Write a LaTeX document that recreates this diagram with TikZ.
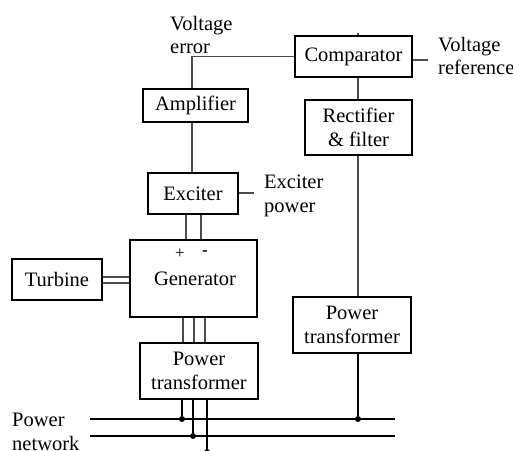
\documentclass[tikz,border=0pt]{standalone}
\usepackage{fontspec}
\setmainfont{Liberation Serif}
\usetikzlibrary{calc}
\begin{document}
\begin{tikzpicture}[x=1pt,y=-1pt,
  blk/.style={draw=black,line width=1.4pt,fill=white,inner sep=0pt,align=center,font=\fontsize{20.5}{23.5}\selectfont},
  lbl/.style={inner sep=0pt,align=left,anchor=north west,font=\fontsize{20.5}{23.5}\selectfont},
  wire/.style={draw=black!70,line width=1.1pt},
  bus/.style={draw=black,line width=1.1pt},
  dotc/.style={fill=black,circle,inner sep=0pt,minimum size=6pt}]
\useasboundingbox (0,0) rectangle (513,450);
% blocks
\node[blk,minimum width=117pt,minimum height=41pt] (comp) at (353.5,56.5) {Comparator};
\node[blk,minimum width=107pt,minimum height=55pt] (rect) at (358.5,127.5) {Rectifier\\\& filter};
\node[blk,minimum width=105pt,minimum height=33pt] (amp) at (195.5,105.5) {Amplifier};
\node[blk,minimum width=90pt,minimum height=41pt] (exc) at (193,193.5) {Exciter};
\node[blk,minimum width=127pt,minimum height=77pt] (gen) at (193.5,278.5) {};
\node[inner sep=0pt,font=\fontsize{20.5}{23.5}\selectfont] (gentxt) at (195,279) {Generator};
\node[inner sep=0pt,font=\fontsize{17}{20}\selectfont] (plus) at (180,254) {+};
\node[inner sep=0pt,font=\fontsize{17}{20}\selectfont\bfseries] (minus) at (205,253) {-};
\node[blk,minimum width=90pt,minimum height=41pt] (turb) at (57,279.5) {Turbine};
\node[blk,minimum width=118pt,minimum height=56pt] (ptl) at (199,371) {Power\\transformer};
\node[blk,minimum width=118pt,minimum height=56pt] (ptr) at (352,325) {Power\\transformer};
% labels
\node[lbl] (verr) at (170,16) {Voltage\\error};
\node[lbl] (vref) at (438,37) {Voltage\\reference};
\node[lbl] (epow) at (264,175) {Exciter\\power};
\node[lbl] (pnet) at (12,413) {Power\\network};
% coordinates
\coordinate (ctop) at (358,33);
\coordinate (vrefend) at (428,60);
\coordinate (epend) at (254,193);
\coordinate (bA1) at (90,419); \coordinate (bA2) at (395,419);
\coordinate (bB1) at (90,436); \coordinate (bB2) at (395,436);
% voltage error path
\draw[wire] (comp.west) -| ($(amp.north)+(-3.5,0)$);
\draw[wire] ($(amp.south)+(-3.5,0)$) -- (exc.north -| 192,0);
% comparator column
\draw[wire] (ctop) -- (comp.north -| ctop);
\draw[wire] (comp.south -| ctop) -- (rect.north -| ctop);
\draw[wire] (rect.south -| ctop) -- (ptr.north -| ctop);
\draw[wire] (comp.east |- vrefend) -- (vrefend);
\draw[wire] (exc.east |- epend) -- (epend);
% exciter to generator
\draw[wire] (exc.south -| 186,0) -- (gen.north -| 186,0);
\draw[wire] (exc.south -| 201,0) -- (gen.north -| 201,0);
% turbine shaft
\draw[wire] (turb.east |- 0,277) -- (gen.west |- 0,277);
\draw[wire] (turb.east |- 0,283) -- (gen.west |- 0,283);
% generator to transformer
\foreach \xx in {183,194,205} \draw[wire] (gen.south -| \xx,0) -- (ptl.north -| \xx,0);
% buses
\draw[bus] (bA1) -- (bA2);
\draw[bus] (bB1) -- (bB2);
\node[dotc] (d1) at (182,419) {};
\node[dotc] (d2) at (193,436) {};
\node[dotc] (d3) at (207,452) {};
\node[dotc] (d4) at (358,419) {};
\draw[bus] (ptl.south -| d1) -- (d1);
\draw[bus] (ptl.south -| d2) -- (d2);
\draw[bus] (ptl.south -| d3) -- (d3);
\draw[bus] (ptr.south -| d4) -- (d4);
\end{tikzpicture}
\end{document}
